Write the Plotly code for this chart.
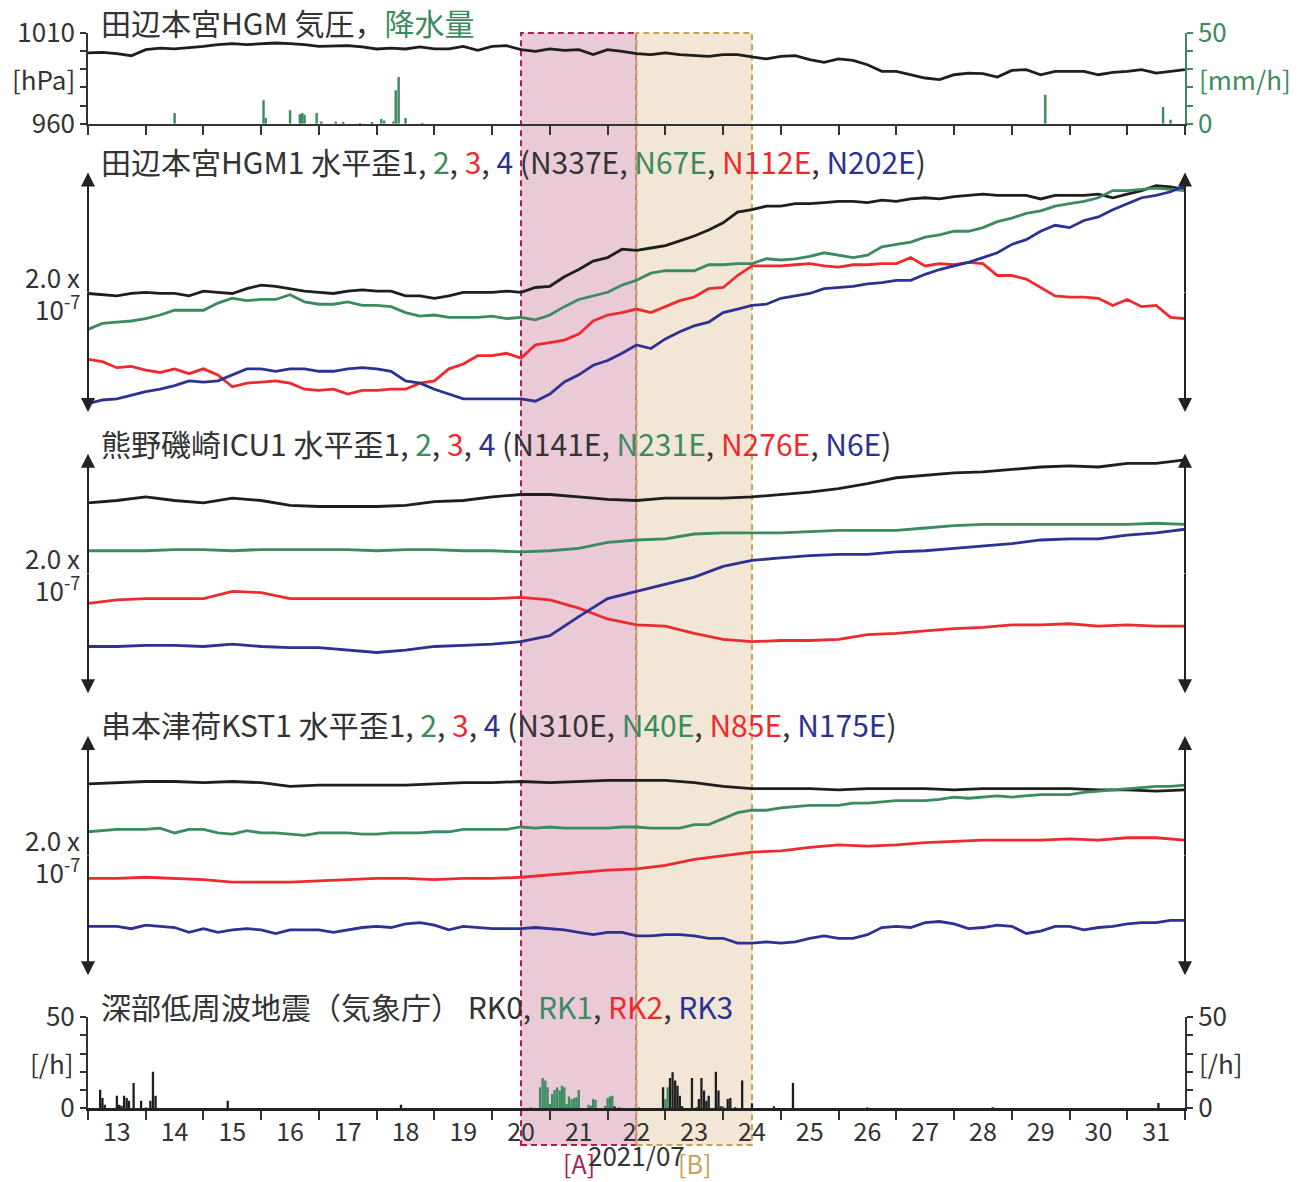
import numpy as np
import plotly.graph_objects as go

# ---------------- data ----------------
days_q = np.round(np.arange(12.5, 31.5001, 0.25), 2)   # 6-hourly grid
days_h = np.round(np.arange(12.5, 31.5001, 0.5), 2)    # 12-hourly grid
day_ticks = list(range(13, 32))
day_edges = [d + 0.5 for d in range(12, 32)]

# pressure [hPa] (days_q)
pres = [999.0, 999.3, 998.6, 997.5, 1000.8, 1001.7, 1001.2, 1001.7, 1002.6, 1003.6, 1004.1, 1003.6, 1004.1,
        1004.5, 1004.1, 1003.6, 1002.6, 1003.0, 1003.0, 1002.3, 1001.2, 1001.7, 1001.2, 1002.3, 1001.2, 1001.2,
        1002.6, 1000.4, 1002.6, 1003.0, 1000.8, 999.9, 1001.2, 1000.4, 1000.8, 998.1, 1000.8, 999.9, 998.6,
        998.1, 999.0, 998.1, 997.5, 997.1, 998.1, 998.1, 996.8, 995.7, 997.1, 997.5, 995.3, 993.8, 995.7,
        994.9, 992.5, 988.9, 988.9, 987.0, 985.2, 984.3, 987.0, 987.9, 987.6, 985.7, 989.4, 989.8, 987.0,
        988.9, 988.9, 988.9, 987.0, 988.3, 988.9, 989.8, 987.9, 988.9, 989.8]

# precipitation [mm/h]
rain_t = [14.0, 15.54, 15.58, 16.0, 16.17, 16.21, 16.25, 16.46, 16.54, 16.79, 16.92, 17.21, 17.42,
          17.58, 17.63, 17.79, 17.83, 17.88, 18.0, 18.29, 29.08, 31.12, 31.25]
rain_v = [5.9, 12.9, 3.1, 7.4, 5.3, 5.9, 5.0, 5.9, 1.3, 1.3, 0.5, 0.4, 0.5,
          2.6, 1.8, 1.3, 18.4, 25.7, 3.1, 0.4, 16.0, 9.2, 2.2]

# HGM1 strain [x1e-8] (days_q)
hgm1 = [9.9, 9.8, 9.7, 9.9, 10.0, 9.9, 9.9, 9.7, 10.1, 10.0, 9.9, 10.3, 10.6, 10.5, 10.3, 10.1, 10.0, 9.9, 10.1,
        10.2, 10.1, 10.1, 9.7, 9.7, 9.5, 9.7, 10.0, 10.0, 10.0, 10.1, 10.0, 10.4, 10.5, 11.3, 11.9, 12.6, 12.9,
        13.6, 13.5,
        13.7, 13.9, 14.3, 14.7, 15.2, 15.8, 16.7, 16.9, 17.2, 17.2, 17.4, 17.4, 17.5, 17.6, 17.6, 17.5, 17.7,
        17.6, 17.8, 17.9, 17.8, 18.0, 18.1, 18.2, 18.1, 18.1, 18.1, 17.8, 18.1, 18.1, 18.1, 18.2, 17.9, 18.2,
        18.5, 18.9, 18.8, 18.6]
hgm2 = [6.9, 7.4, 7.5, 7.6, 7.8, 8.1, 8.5, 8.5, 8.5, 9.1, 9.5, 9.3, 9.4, 9.4, 9.8, 9.2, 9.0, 9.0, 9.2, 8.9,
        8.9, 8.8, 8.3, 8.0, 8.1, 7.9, 7.9, 7.9, 8.0, 7.8, 7.9, 7.7, 8.1, 8.8, 9.4, 9.7, 10.0, 10.6, 11.0,
        11.6, 11.8, 11.8, 11.8, 12.3, 12.3, 12.4, 12.4, 12.8, 12.7, 12.8, 13.0, 13.3, 13.1, 12.9, 13.1, 13.8,
        14.0, 14.2, 14.6, 14.8, 15.1, 15.1, 15.4, 15.9, 16.2, 16.6, 16.8, 17.2, 17.4, 17.6, 17.9, 18.5, 18.5,
        18.6, 18.7, 18.6, 18.5]
hgm3 = [4.4, 4.2, 3.7, 3.8, 3.5, 3.3, 3.6, 3.2, 3.6, 3.1, 2.1, 2.4, 2.5, 2.6, 2.4, 1.9, 1.8, 1.9, 1.5, 1.8,
        1.8, 1.9, 1.9, 2.4, 2.6, 3.6, 4.0, 4.7, 4.7, 4.9, 4.5, 5.6, 5.8, 6.0, 6.5, 7.6, 8.1, 8.3, 8.6,
        8.3, 8.8, 9.3, 9.6, 10.3, 10.4, 11.4, 12.2, 12.2, 12.2, 12.3, 12.4, 12.2, 12.1, 12.3, 12.3, 12.4,
        12.4, 12.9, 12.2, 12.4, 12.3, 12.5, 12.4, 11.4, 11.4, 11.1, 10.4, 9.7, 9.6, 9.6, 9.5, 8.9, 9.4,
        8.8, 8.9, 7.9, 7.8]
hgm4 = [0.7, 1.0, 1.1, 1.4, 1.7, 1.9, 2.2, 2.6, 2.5, 2.6, 3.1, 3.6, 3.6, 3.4, 3.6, 3.6, 3.4, 3.4, 3.6, 3.7,
        3.6, 3.4, 2.6, 2.4, 1.9, 1.5, 1.1, 1.1, 1.1, 1.1, 1.1, 0.9, 1.5, 2.5, 3.1, 3.9, 4.3, 4.9, 5.6,
        5.3, 6.1, 6.7, 7.2, 7.5, 8.3, 8.6, 8.9, 9.0, 9.5, 9.7, 9.9, 10.3, 10.4, 10.5, 10.7, 10.8, 11.0,
        11.0, 11.5, 11.9, 12.2, 12.5, 12.9, 13.3, 14.0, 14.4, 15.1, 15.6, 15.4, 16.0, 16.3, 16.9, 17.4,
        17.9, 18.1, 18.4, 18.9]

# ICU1 strain [x1e-8] (days_h)
icu1 = [15.9, 16.1, 16.4, 16.1, 15.9, 16.3, 16.1, 15.7, 15.6, 15.6, 15.6, 15.7, 16.0, 16.1, 16.4, 16.6, 16.6,
        16.4, 16.2, 16.1, 16.3, 16.3, 16.3, 16.4, 16.6, 16.8, 17.1, 17.5, 18.0, 18.2, 18.4, 18.5, 18.7, 18.9,
        19.0, 18.9, 19.2, 19.2, 19.5]
icu2 = [11.9, 11.9, 11.9, 12.0, 12.0, 11.9, 12.0, 12.0, 12.0, 12.0, 11.9, 12.0, 12.0, 11.9, 11.9, 11.8, 11.9,
        12.1, 12.6, 12.8, 12.9, 13.3, 13.4, 13.4, 13.4, 13.5, 13.6, 13.6, 13.6, 13.8, 14.0, 14.1, 14.1, 14.1,
        14.1, 14.1, 14.1, 14.2, 14.1]
icu3 = [7.5, 7.8, 7.9, 7.9, 7.9, 8.5, 8.4, 7.9, 7.9, 7.9, 7.9, 7.9, 7.9, 7.9, 7.9, 8.0, 7.8, 7.1, 6.2, 5.7,
        5.6, 5.0, 4.5, 4.3, 4.4, 4.4, 4.5, 4.9, 5.0, 5.2, 5.4, 5.5, 5.7, 5.7, 5.8, 5.6, 5.7, 5.6, 5.6]
icu4 = [3.9, 3.9, 4.0, 4.0, 3.9, 4.1, 3.9, 3.8, 3.8, 3.6, 3.4, 3.6, 3.9, 4.0, 4.1, 4.3, 4.8, 6.4, 7.9, 8.5,
        9.1, 9.7, 10.6, 11.1, 11.3, 11.5, 11.6, 11.6, 11.8, 11.9, 12.1, 12.3, 12.5, 12.8, 12.9, 12.9, 13.2,
        13.4, 13.7]

# KST1 strain [x1e-8]  (1,3: days_h ; 2,4: days_q)
kst1 = [16.0, 16.1, 16.2, 16.2, 16.1, 16.2, 16.1, 15.8, 15.9, 15.9, 15.9, 15.9, 16.0, 16.1, 16.1, 16.2, 16.1,
        16.2, 16.3, 16.3, 16.3, 16.1, 15.8, 15.6, 15.6, 15.6, 15.5, 15.6, 15.6, 15.6, 15.5, 15.6, 15.6, 15.6,
        15.6, 15.5, 15.5, 15.4, 15.5]
kst3 = [8.1, 8.1, 8.2, 8.1, 8.0, 7.8, 7.8, 7.8, 7.9, 8.0, 8.1, 8.1, 8.0, 8.1, 8.1, 8.2, 8.4, 8.6, 8.8, 8.9,
        9.2, 9.7, 10.0, 10.3, 10.4, 10.7, 10.9, 10.8, 10.9, 11.1, 11.2, 11.3, 11.3, 11.3, 11.4, 11.3, 11.5,
        11.5, 11.3]
kst2 = [12.0, 12.1, 12.2, 12.2, 12.2, 12.3, 11.9, 12.2, 12.2, 11.9, 11.8, 12.1, 11.9, 11.9, 11.8, 11.7, 11.9,
        11.9, 11.9, 11.8, 11.8, 11.9, 11.9, 11.9, 12.0, 12.0, 12.2, 12.2, 12.2, 12.2, 12.4, 12.3, 12.4, 12.3,
        12.3, 12.3, 12.3, 12.4, 12.4,
        12.3, 12.3, 12.3, 12.6, 12.6, 13.1, 13.6, 13.8, 13.8, 14.0, 14.1, 14.2, 14.2, 14.2, 14.4, 14.4, 14.5,
        14.6, 14.6, 14.6, 14.7, 14.9, 14.8, 14.9, 15.0, 14.9, 15.0, 15.1, 15.1, 15.1, 15.3, 15.4, 15.5, 15.6,
        15.7, 15.8, 15.8, 15.9]
kst4 = [4.1, 4.1, 4.1, 3.9, 4.2, 4.1, 4.0, 3.6, 3.9, 3.6, 3.8, 3.9, 3.8, 3.5, 3.8, 3.8, 3.8, 3.6, 3.8, 4.0,
        4.1, 4.0, 4.3, 4.4, 4.2, 3.8, 4.1, 4.0, 3.9, 3.9, 3.9, 4.0, 3.9, 3.8, 3.6, 3.4, 3.6, 3.6, 3.3,
        3.3, 3.4, 3.4, 3.3, 3.1, 3.1, 2.7, 2.7, 2.8, 2.7, 2.8, 3.1, 3.3, 3.1, 3.1, 3.4, 4.0, 4.1, 4.0, 4.4,
        4.5, 4.3, 3.9, 4.0, 4.2, 4.1, 3.5, 3.7, 4.1, 4.1, 3.8, 4.0, 4.1, 4.3, 4.4, 4.4, 4.6, 4.6]

# deep low-frequency tremor counts [/h]
rk0_t = [12.71, 12.75, 12.79, 13.0, 13.04, 13.08, 13.125, 13.17, 13.21, 13.29, 13.42, 13.58, 13.625, 13.67,
         14.92, 17.92, 21.62,
         22.46, 22.58, 22.625, 22.67, 22.71, 22.75, 22.79, 22.96, 23.04, 23.08, 23.125, 23.17, 23.21, 23.25,
         23.375, 23.42, 23.46, 23.58, 23.625, 23.71, 23.83, 24.0, 24.38, 24.71, 28.17, 31.04]
rk0_v = [10.1, 5.5, 1.8, 6.8, 1.8, 1.3, 6.8, 5.5, 4.0, 13.8, 4.0, 4.0, 20.0, 6.8,
         4.0, 1.8, 0.5,
         11.4, 16.5, 19.7, 15.1, 12.3, 6.8, 0.7, 16.5, 0.4, 5.0, 16.5, 9.6, 4.0, 6.8,
         20.0, 9.6, 0.7, 5.0, 5.5, 0.4, 15.1, 2.6, 0.7, 13.8, 0.4, 2.8]
rk1_t = [13.5, 20.17, 20.33, 20.375, 20.42, 20.46, 20.5, 20.54, 20.58, 20.625, 20.67, 20.71, 20.75, 20.79,
         20.83, 20.875, 20.92, 20.96, 21.0, 21.17, 21.21, 21.25, 21.29, 21.46, 21.5, 21.54, 21.58, 22.04,
         22.5, 22.54, 23.5]
rk1_v = [0.4, 0.4, 11.4, 16.5, 15.1, 11.4, 2.2, 7.7, 9.9, 11.4, 9.6, 12.3, 11.4, 2.2,
         6.3, 5.0, 5.5, 5.9, 9.9, 1.8, 1.3, 5.0, 4.4, 1.3, 5.5, 6.3, 6.8, 0.4,
         5.0, 11.4, 0.7]
rk2_t = [21.7]
rk2_v = [0.3]
rk3_t = [13.67, 26.0]
rk3_v = [0.5, 0.4]

# ---------------- style ----------------
K = '#1e1e1e'
G = '#3b8a60'
R = '#ee2a2e'
B = '#2e3192'
TXT = '#333333'
FONT = 'Noto Sans CJK JP'
W, H = 1308, 1182
ML, MR, MT, MB = 88, 123, 30, 74
PW, PH = W - ML - MR, H - MT - MB
TITLE_SIZE = 30
LAB_SIZE = 26


def py(y):
    return (H - MB - y) / PH


def px(x):
    return (x - ML) / PW


fig = go.Figure()

# panel 1
fig.add_trace(go.Bar(x=rain_t, y=rain_v, xaxis='x2', yaxis='y6', marker_color=G,
                     marker_line_width=0, width=0.042))
fig.add_trace(go.Scatter(x=days_q, y=pres, xaxis='x2', yaxis='y', mode='lines',
                         line=dict(color=K, width=2.8)))

# strain panels
for yax, xs, series in [
    ('y2', [days_q] * 4, [hgm1, hgm2, hgm3, hgm4]),
    ('y3', [days_h] * 4, [icu1, icu2, icu3, icu4]),
    ('y4', [days_h, days_q, days_h, days_q], [kst1, kst2, kst3, kst4]),
]:
    for xv, yv, c in zip(xs, series, [K, G, R, B]):
        fig.add_trace(go.Scatter(x=xv, y=yv, xaxis='x', yaxis=yax, mode='lines',
                                 line=dict(color=c, width=2.8)))

# tremor panel
for t, v, c in [(rk0_t, rk0_v, K), (rk1_t, rk1_v, G), (rk2_t, rk2_v, R), (rk3_t, rk3_v, B)]:
    fig.add_trace(go.Bar(x=t, y=v, xaxis='x', yaxis='y5', marker_color=c,
                         marker_line_width=0, width=0.04))
fig.add_trace(go.Scatter(x=[None], y=[None], xaxis='x', yaxis='y7', mode='lines'))

minor = dict(tickmode='array', tickvals=day_edges, ticks='outside', ticklen=9,
             tickwidth=1.5, tickcolor='#333')

common_y = dict(showgrid=False, zeroline=False, fixedrange=True)
lab_font = dict(size=LAB_SIZE, color=TXT)

fig.update_layout(
    width=W, height=H,
    margin=dict(l=ML, r=MR, t=MT, b=MB),
    paper_bgcolor='white', plot_bgcolor='rgba(0,0,0,0)',
    showlegend=False, barmode='overlay',
    font=dict(family=FONT, size=24, color=TXT),
    xaxis=dict(domain=[0, 1], range=[12.5, 31.5], anchor='y5',
               tickmode='array', tickvals=day_ticks, ticktext=[str(d) for d in day_ticks],
               ticks='', minor=minor, showline=True, linewidth=2.5, linecolor='#222',
               showgrid=False, zeroline=False, tickfont=dict(size=25, color=TXT),
               ticklabelstandoff=0),
    xaxis2=dict(domain=[0, 1], range=[12.5, 31.5], anchor='y', matches='x',
                showticklabels=False, ticks='', minor=minor, showline=True,
                linewidth=2, linecolor='#333', showgrid=False, zeroline=False),
    yaxis=dict(domain=[py(121), py(30)], range=[960, 1010], anchor='x2',
               tickmode='array', tickvals=[960, 970, 980, 990, 1000, 1010],
               ticktext=['960', '', '', '', '', '1010'], ticks='outside', ticklen=6,
               tickwidth=1.5, tickcolor='#333', showline=True, linewidth=1.5,
               linecolor='#333', tickfont=lab_font, **common_y),
    yaxis6=dict(overlaying='y', side='right', anchor='x2', range=[0, 50],
                tickmode='array', tickvals=[0, 10, 20, 30, 40, 50],
                ticktext=['0', '', '', '', '', '50'], ticks='outside', ticklen=6,
                tickwidth=1.5, tickcolor=G, showline=True, linewidth=1.5, linecolor=G,
                tickfont=dict(size=LAB_SIZE, color=G), **common_y),
    yaxis2=dict(domain=[py(410), py(170)], range=[0, 20], visible=False, **common_y),
    yaxis3=dict(domain=[py(692), py(452)], range=[0, 20], visible=False, **common_y),
    yaxis4=dict(domain=[py(975), py(735)], range=[0, 20], visible=False, **common_y),
    yaxis5=dict(domain=[0, py(1017)], range=[0, 50], anchor='x',
                tickmode='array', tickvals=[0, 10, 20, 30, 40, 50],
                ticktext=['0', '', '', '', '', '50'], ticks='outside', ticklen=6,
                tickwidth=1.5, tickcolor='#333', showline=True, linewidth=2,
                linecolor='#333', tickfont=lab_font, **common_y),
    yaxis7=dict(overlaying='y5', side='right', anchor='x', range=[0, 50],
                tickmode='array', tickvals=[0, 10, 20, 30, 40, 50],
                ticktext=['0', '', '', '', '', '50'], ticks='outside', ticklen=6,
                tickwidth=1.5, tickcolor='#333', showline=True, linewidth=2,
                linecolor='#333', tickfont=lab_font, **common_y),
)

# shaded periods [A], [B]
fig.add_shape(type='rect', xref='x', yref='paper', x0=20, x1=22, y0=py(1145), y1=py(30),
              fillcolor='#ebcad8', line=dict(color='#ad1a5c', width=2, dash='6px,4px'),
              layer='below')
fig.add_shape(type='rect', xref='x', yref='paper', x0=22, x1=24, y0=py(1145), y1=py(30),
              fillcolor='#f2e7d6', line=dict(color='#c9a052', width=2, dash='6px,4px'),
              layer='below')


def span(t, c):
    return f"<span style='color:{c}'>{t}</span>"


titles = [
    ("田辺本宮HGM 気圧，" + span("降水量", G), 19),
    ("田辺本宮HGM1 水平歪1, " + span("2", G) + ", " + span("3", R) + ", " + span("4", B)
     + " (N337E, " + span("N67E", G) + ", " + span("N112E", R) + ", " + span("N202E", B) + ")", 158),
    ("熊野磯崎ICU1 水平歪1, " + span("2", G) + ", " + span("3", R) + ", " + span("4", B)
     + " (N141E, " + span("N231E", G) + ", " + span("N276E", R) + ", " + span("N6E", B) + ")", 441),
    ("串本津荷KST1 水平歪1, " + span("2", G) + ", " + span("3", R) + ", " + span("4", B)
     + " (N310E, " + span("N40E", G) + ", " + span("N85E", R) + ", " + span("N175E", B) + ")", 723),
    ("深部低周波地震（気象庁） RK0, " + span("RK1", G) + ", " + span("RK2", R) + ", "
     + span("RK3", B), 1006),
]
for txt, yc in titles:
    fig.add_annotation(x=px(99), y=py(yc), xref='paper', yref='paper', text=txt,
                       showarrow=False, xanchor='left', yanchor='middle',
                       font=dict(size=TITLE_SIZE, color=TXT, family=FONT))

# unit labels
for txt, xc, yc, c in [("[hPa]", 43, 76, TXT), ("[mm/h]", 1245, 76, G),
                       ("[/h]", 52, 1062, TXT), ("[/h]", 1221, 1062, TXT)]:
    fig.add_annotation(x=px(xc), y=py(yc), xref='paper', yref='paper', text=txt,
                       showarrow=False, xanchor='center', yanchor='middle',
                       font=dict(size=LAB_SIZE, color=c, family=FONT))

# scale labels and double arrows for strain panels
for yax, yc in [('y2', 290), ('y3', 572), ('y4', 855)]:
    fig.add_annotation(x=px(82), y=py(yc - 16), xref='paper', yref='paper', text="2.0 x",
                       showarrow=False, xanchor='right', yanchor='middle',
                       font=dict(size=LAB_SIZE, color=TXT, family=FONT))
    fig.add_annotation(x=px(82), y=py(yc + 15), xref='paper', yref='paper',
                       text="10<sup>-7</sup>", showarrow=False, xanchor='right',
                       yanchor='middle', font=dict(size=LAB_SIZE, color=TXT, family=FONT))
    for xv in (12.5, 31.5):
        for yv, ay in ((20, 121), (0, -121)):
            fig.add_annotation(x=xv, y=yv, xref='x', yref=yax, text='', showarrow=True,
                               ax=0, ay=ay, axref='pixel', ayref='pixel', arrowhead=2,
                               arrowsize=1.4, arrowwidth=2, arrowcolor='#222')

# period / month labels
fig.add_annotation(x=21, y=py(1163), xref='x', yref='paper', text="[A]", showarrow=False,
                   xanchor='center', yanchor='middle',
                   font=dict(size=25, color='#ad1a5c', family=FONT))
fig.add_annotation(x=23, y=py(1163), xref='x', yref='paper', text="[B]", showarrow=False,
                   xanchor='center', yanchor='middle',
                   font=dict(size=25, color='#c9a052', family=FONT))
fig.add_annotation(x=22, y=py(1155), xref='x', yref='paper', text="2021/07", showarrow=False,
                   xanchor='center', yanchor='middle',
                   font=dict(size=LAB_SIZE, color=TXT, family=FONT))

fig.write_html("out.html", config={'displayModeBar': False},
               post_script="document.body.style.margin='0';")
